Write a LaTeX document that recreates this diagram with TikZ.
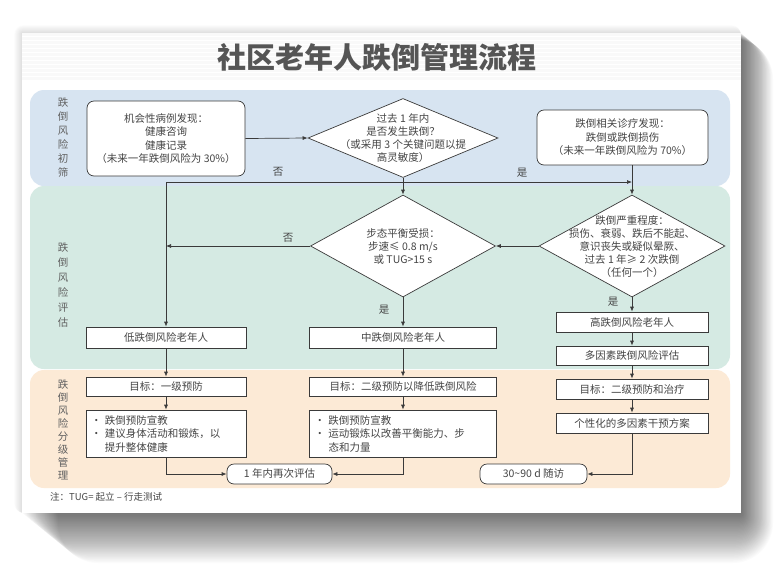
\documentclass[tikz,border=0pt]{standalone}
\usepackage{fontspec}
\setmainfont{Noto Sans CJK SC}
\usetikzlibrary{shapes.geometric,arrows.meta}
\definecolor{txt}{HTML}{454545}
\definecolor{lin}{HTML}{3A3A3A}
\definecolor{bandA}{HTML}{D7E4F1}
\definecolor{bandB}{HTML}{D5EAE3}
\definecolor{bandC}{HTML}{FCEAD6}
\definecolor{ttl}{HTML}{555555}
\begin{document}
\begin{tikzpicture}[x=1pt,y=-1pt,
  box/.style={draw=lin, fill=white, line width=0.7pt, inner sep=0pt, text=txt,
    font=\fontsize{10.5}{13.5}\selectfont, align=center},
  rbox/.style={box, rounded corners=7pt},
  bbox/.style={box, align=left, text width=#1, inner xsep=5pt},
  dia/.style={draw=lin, fill=white, line width=0.7pt, shape=diamond, inner sep=0pt},
  dtxt/.style={text=txt, font=\fontsize{10.5}{13}\selectfont, align=center, inner sep=0pt},
  lab/.style={text=txt, font=\fontsize{10.5}{12}\selectfont, inner sep=0pt},
  side/.style={text=txt!85, font=\fontsize{10.5}{#1}\selectfont, align=center, inner sep=0pt},
  arr/.style={-{Latex[length=5pt,width=4pt]}, draw=lin, line width=0.7pt},
  ln/.style={draw=lin, line width=0.7pt}]
\useasboundingbox (0,0) rectangle (777,579);
\fill[white] (0,0) rectangle (777,579);
% shadow
\foreach \i in {1,...,40}
  \fill[black,opacity=0.016,rounded corners=\i pt] (22+\i*0.9,33+\i*0.15) rectangle (741+\i*0.8,513+\i*1.25);
\foreach \i in {1,...,10}
  \fill[black,opacity=0.01,rounded corners=\i pt] (22-\i*0.8,33-\i*0.8) rectangle (741,513);
% card
\fill[white] (22,33) rectangle (741,513);
\fill[gray!5] (22,33) rectangle (741,80);
\foreach \yy in {36,40,...,78} \draw[white,line width=0.6pt] (22,\yy) -- (741,\yy);
\node[text=ttl, font=\fontsize{29}{32}\selectfont\bfseries, inner sep=0pt] (title) at (377,57) {社区老年人跌倒管理流程};
% bands
\fill[bandA, rounded corners=14pt] (30,90) rectangle (730,186);
\fill[bandB, rounded corners=14pt] (30,186) rectangle (730,369);
\fill[bandC, rounded corners=14pt] (30,370) rectangle (730,488);
\node[side=14] (s1) at (63,138) {跌\\倒\\风\\险\\初\\筛};
\node[side=15] (s2) at (63,285) {跌\\倒\\风\\险\\评\\估};
\node[side=13] (s3) at (63,430) {跌\\倒\\风\\险\\分\\级\\管\\理};
% row 1
\node[rbox, minimum width=158pt, minimum height=75pt] (b1) at (166,138.5)
  {机会性病例发现：\\健康咨询\\健康记录\\（未来一年跌倒风险为 30\%）};
\node[dia, minimum width=190pt, minimum height=79pt] (d1) at (403,138) {};
\node[dtxt] (d1t) at (403,138) {过去 1 年内\\是否发生跌倒？\\（或采用 3 个关键问题以提\\高灵敏度）};
\node[rbox, minimum width=171pt, minimum height=55pt] (b2) at (622.5,137.5)
  {跌倒相关诊疗发现：\\跌倒或跌倒损伤\\（未来一年跌倒风险为 70\%）};
% row 2
\node[dia, minimum width=185pt, minimum height=102pt] (d2) at (403,246) {};
\node[dtxt] (d2t) at (403,246) {步态平衡受损：\\步速≤ 0.8 m/s\\或 TUG>15 s};
\node[dia, minimum width=186pt, minimum height=102pt] (d3) at (632,246) {};
\node[dtxt] (d3t) at (632,247) {跌倒严重程度：\\损伤、衰弱、跌后不能起、\\意识丧失或疑似晕厥、\\过去 1 年≥ 2 次跌倒\\（任何一个）};
\node[box, minimum width=160pt, minimum height=21pt] (low) at (166,337.5) {低跌倒风险老年人};
\node[box, minimum width=187pt, minimum height=21pt] (mid) at (403,337.5) {中跌倒风险老年人};
\node[box, minimum width=152pt, minimum height=20pt] (high) at (632,322) {高跌倒风险老年人};
\node[box, minimum width=152pt, minimum height=19pt] (multi) at (632,355.5) {多因素跌倒风险评估};
% row 3
\node[box, minimum width=160pt, minimum height=19pt] (g1) at (166,386.5) {目标：一级预防};
\node[box, minimum width=187pt, minimum height=19pt] (g2) at (403,386.5) {目标：二级预防以降低跌倒风险};
\node[box, minimum width=152pt, minimum height=20pt] (g3) at (632,389) {目标：二级预防和治疗};
\node[bbox=150pt, minimum height=47pt] (u1) at (166,433.5)
  {· 跌倒预防宣教\\· 建议身体活动和锻炼，以\\\phantom{· }提升整体健康};
\node[bbox=177pt, minimum height=47pt] (u2) at (403,433.5)
  {· 跌倒预防宣教\\· 运动锻炼以改善平衡能力、步\\\phantom{· }态和力量};
\node[box, minimum width=152pt, minimum height=20pt] (plan) at (632,423) {个性化的多因素干预方案};
\node[rbox, minimum width=105pt, minimum height=20pt] (again) at (279.5,474) {1 年内再次评估};
\node[rbox, minimum width=107pt, minimum height=20pt] (follow) at (533.5,474) {30\textasciitilde 90 d 随访};
\node[text=txt, font=\fontsize{9.5}{11}\selectfont, anchor=west, inner sep=0pt] (note) at (50,497) {注：TUG= 起立 – 行走测试};
% connectors
\coordinate (j1) at (403,182);
\coordinate (j2) at (632,182);
\draw[arr] (b1.east) -- (d1.west);
\draw[ln] (d1.south) -- (j1);
\draw[arr] (j1) -| (low.north);
\draw[arr] (j1) -- (j2);
\draw[arr] (j1) -- (d2.north);
\draw[arr] (b2.south -| d3.north) -- (d3.north);
\draw[arr] (d2.west) -- (d2.west -| low.north);
\draw[arr] (d3.west) -- (d2.east);
\draw[arr] (d2.south) -- (mid.north);
\draw[arr] (d3.south) -- (high.north);
\draw[arr] (high) -- (multi);
\draw[arr] (multi) -- (g3);
\draw[arr] (low) -- (g1);
\draw[arr] (mid) -- (g2);
\draw[arr] (g1) -- (u1);
\draw[arr] (g2) -- (u2);
\draw[arr] (g3) -- (plan);
\draw[arr] (u1.south) |- (again.west);
\draw[arr] (u2.south) |- (again.east);
\draw[arr] (plan.south) |- (follow.east);
\node[lab] (l1) at (278,172) {否};
\node[lab] (l2) at (522,173) {是};
\node[lab] (l3) at (288,238) {否};
\node[lab] (l4) at (384,310) {是};
\node[lab] (l5) at (613,302) {是};
\end{tikzpicture}
\end{document}
